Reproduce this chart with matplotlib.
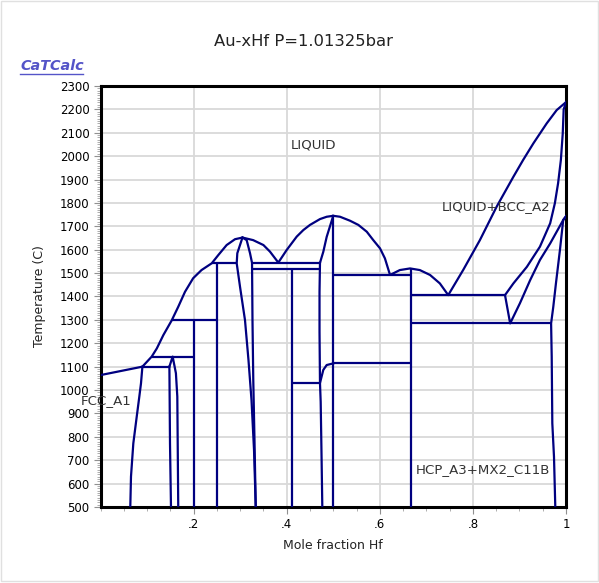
import matplotlib
matplotlib.use('Agg')
import matplotlib.pyplot as plt
from matplotlib.lines import Line2D
from matplotlib.patches import Rectangle

# Phase boundaries (x = mole fraction Hf, T in C)
liq_x = [0, 0.09, 0.11, 0.121, 0.135, 0.153, 0.167, 0.1815, 0.199, 0.217, 0.239, 0.253, 0.271, 0.289,
         0.305, 0.328, 0.350, 0.364, 0.382, 0.400, 0.4215, 0.4357, 0.450, 0.4715, 0.486, 0.500,
         0.5145, 0.536, 0.554, 0.572, 0.586, 0.6004, 0.611, 0.622, 0.643, 0.665, 0.686, 0.708,
         0.729, 0.747, 0.779, 0.815, 0.851, 0.887, 0.908, 0.930, 0.9585, 0.980, 1.0]
liq_T = [1064, 1100, 1143, 1178, 1235, 1298, 1356, 1420, 1478, 1513, 1542, 1577, 1620, 1645,
         1652, 1641, 1620, 1592, 1545, 1599, 1656, 1684, 1706, 1731, 1741, 1745,
         1741, 1724, 1706, 1677, 1641, 1606, 1563, 1492, 1513, 1520, 1513, 1492,
         1456, 1406, 1513, 1641, 1784, 1912, 1984, 2055, 2140, 2197, 2231]

bcc_sol_x = [0.869, 0.887, 0.916, 0.944, 0.966, 0.976, 0.983, 0.989, 0.993, 0.995, 1.0]
bcc_sol_T = [1406, 1456, 1527, 1613, 1713, 1798, 1884, 1984, 2097, 2200, 2231]

bcc_hcp_x = [0.869, 0.880, 0.901, 0.923, 0.944, 0.966, 0.994, 1.0]
bcc_hcp_T = [1406, 1285, 1371, 1470, 1556, 1627, 1727, 1743]

hcp_solv_x = [1.0, 0.994, 0.987, 0.9785, 0.9727, 0.968, 0.9693, 0.9706, 0.9742, 0.977]
hcp_solv_T = [1743, 1727, 1599, 1458, 1356, 1285, 1143, 858, 715, 500]

fcc_solv_x = [0.09, 0.087, 0.0834, 0.0778, 0.0705, 0.0655, 0.064]
fcc_solv_T = [1100, 1029, 972, 886, 772, 630, 500]

c15_left_x = [0.148, 0.1493, 0.1514]
c15_left_T = [1100, 772, 500]
c15_right_x = [0.148, 0.155, 0.162, 0.165, 0.167]
c15_right_T = [1100, 1143, 1072, 972, 500]

c30_left_x = [0.305, 0.2939, 0.2926, 0.2997, 0.3104, 0.3179, 0.3244, 0.3298, 0.3335]
c30_left_T = [1652, 1585, 1542, 1442, 1299, 1128, 957, 744, 500]
c30_right_x = [0.305, 0.314, 0.3212, 0.3255, 0.326, 0.3265, 0.3282, 0.3308, 0.3335]
c30_right_T = [1652, 1641, 1585, 1544, 1428, 1299, 1043, 786, 500]

c50_sol_x = [0.4715, 0.4786, 0.4859, 0.500]
c50_sol_T = [1544, 1591, 1655, 1745]
c47_x = [0.4715, 0.4705, 0.4705, 0.4715, 0.473, 0.475, 0.4765]
c47_T = [1544, 1420, 1250, 1030, 950, 700, 500]
c47_curve_x = [0.4715, 0.4786, 0.4859, 0.500]
c47_curve_T = [1030, 1086, 1107, 1114]

# isotherms: temperature, x from, x to
iso_T = [1100, 1143, 1298, 1542, 1544, 1517, 1030, 1492, 1114, 1406, 1285]
iso_x0 = [0.09, 0.11, 0.153, 0.239, 0.3255, 0.3258, 0.412, 0.5, 0.5, 0.6667, 0.6667]
iso_x1 = [0.148, 0.2, 0.25, 0.2926, 0.4715, 0.4715, 0.4715, 0.6667, 0.6667, 0.869, 0.968]

# line compounds: x, top T, bottom T
cmp_x = [0.2, 0.25, 0.412, 0.5, 0.6667]
cmp_top = [1298, 1542, 1517, 1745, 1520]
cmp_bot = [500, 500, 500, 500, 500]

labels = ['LIQUID', 'LIQUID+BCC_A2', 'FCC_A1', 'HCP_A3+MX2_C11B']
label_x = [0.409, 0.734, -0.042, 0.678]
label_T = [2048, 1783, 957, 662]

navy = '#000080'
lw = 1.6

fig = plt.figure(figsize=(5.99, 5.83), dpi=100)
fig.patches.append(Rectangle((0.002, 0.004), 0.996, 0.994, transform=fig.transFigure,
                             fill=False, edgecolor='#e0e0e0', lw=1))
ax = fig.add_axes([100.5/599, 76/583, 465.5/599, 421/583])

curves = [(liq_x, liq_T), (bcc_sol_x, bcc_sol_T), (bcc_hcp_x, bcc_hcp_T), (hcp_solv_x, hcp_solv_T),
          (fcc_solv_x, fcc_solv_T), (c15_left_x, c15_left_T), (c15_right_x, c15_right_T),
          (c30_left_x, c30_left_T), (c30_right_x, c30_right_T), (c50_sol_x, c50_sol_T),
          (c47_x, c47_T), (c47_curve_x, c47_curve_T)]
for cx, cT in curves:
    ax.plot(cx, cT, color=navy, lw=lw, solid_joinstyle='round', zorder=3)
ax.hlines(iso_T, iso_x0, iso_x1, color=navy, lw=lw, zorder=3)
ax.vlines(cmp_x, cmp_bot, cmp_top, color=navy, lw=lw, zorder=3)

for s, lx, lt in zip(labels, label_x, label_T):
    ax.text(lx, lt, s, fontsize=9.6, color='#333333', ha='left', va='center', clip_on=False, zorder=4)

ax.set_xlim(0, 1)
ax.set_ylim(500, 2300)
ax.set_xticks([0.2, 0.4, 0.6, 0.8, 1.0])
ax.set_xticklabels(['.2', '.4', '.6', '.8', '1'])
ax.set_xticks([i * 0.05 for i in range(21)], minor=True)
ax.set_yticks(range(500, 2301, 100))
ax.set_yticks(range(500, 2301, 10), minor=True)
ax.grid(True, which='major', color='#d9d9d9', lw=1.3, zorder=0)
ax.tick_params(which='major', direction='out', length=5, color='#909090', labelsize=8.5, pad=3)
ax.tick_params(which='minor', direction='out', length=3, color='#a0a0a0')
for sp in ax.spines.values():
    sp.set_linewidth(2.2)
    sp.set_color('black')

ax.set_xlabel('Mole fraction Hf', fontsize=9, color='#222222', labelpad=6)
ax.set_ylabel('Temperature (C)', fontsize=9, color='#222222', labelpad=10)

fig.text(0.5075, 0.928, 'Au-xHf P=1.01325bar', fontsize=11.8, color='#222222', ha='center', va='center')
fig.text(20/599, 1 - 66/583, 'CaTCalc', fontsize=10.4, color='#5454c8', style='italic', weight='bold',
         ha='left', va='center')
fig.lines.append(Line2D([20/599, 83/599], [1 - 74/583, 1 - 74/583], transform=fig.transFigure,
                        color='#5454c8', lw=1))

fig.savefig('out.png', dpi=100)
